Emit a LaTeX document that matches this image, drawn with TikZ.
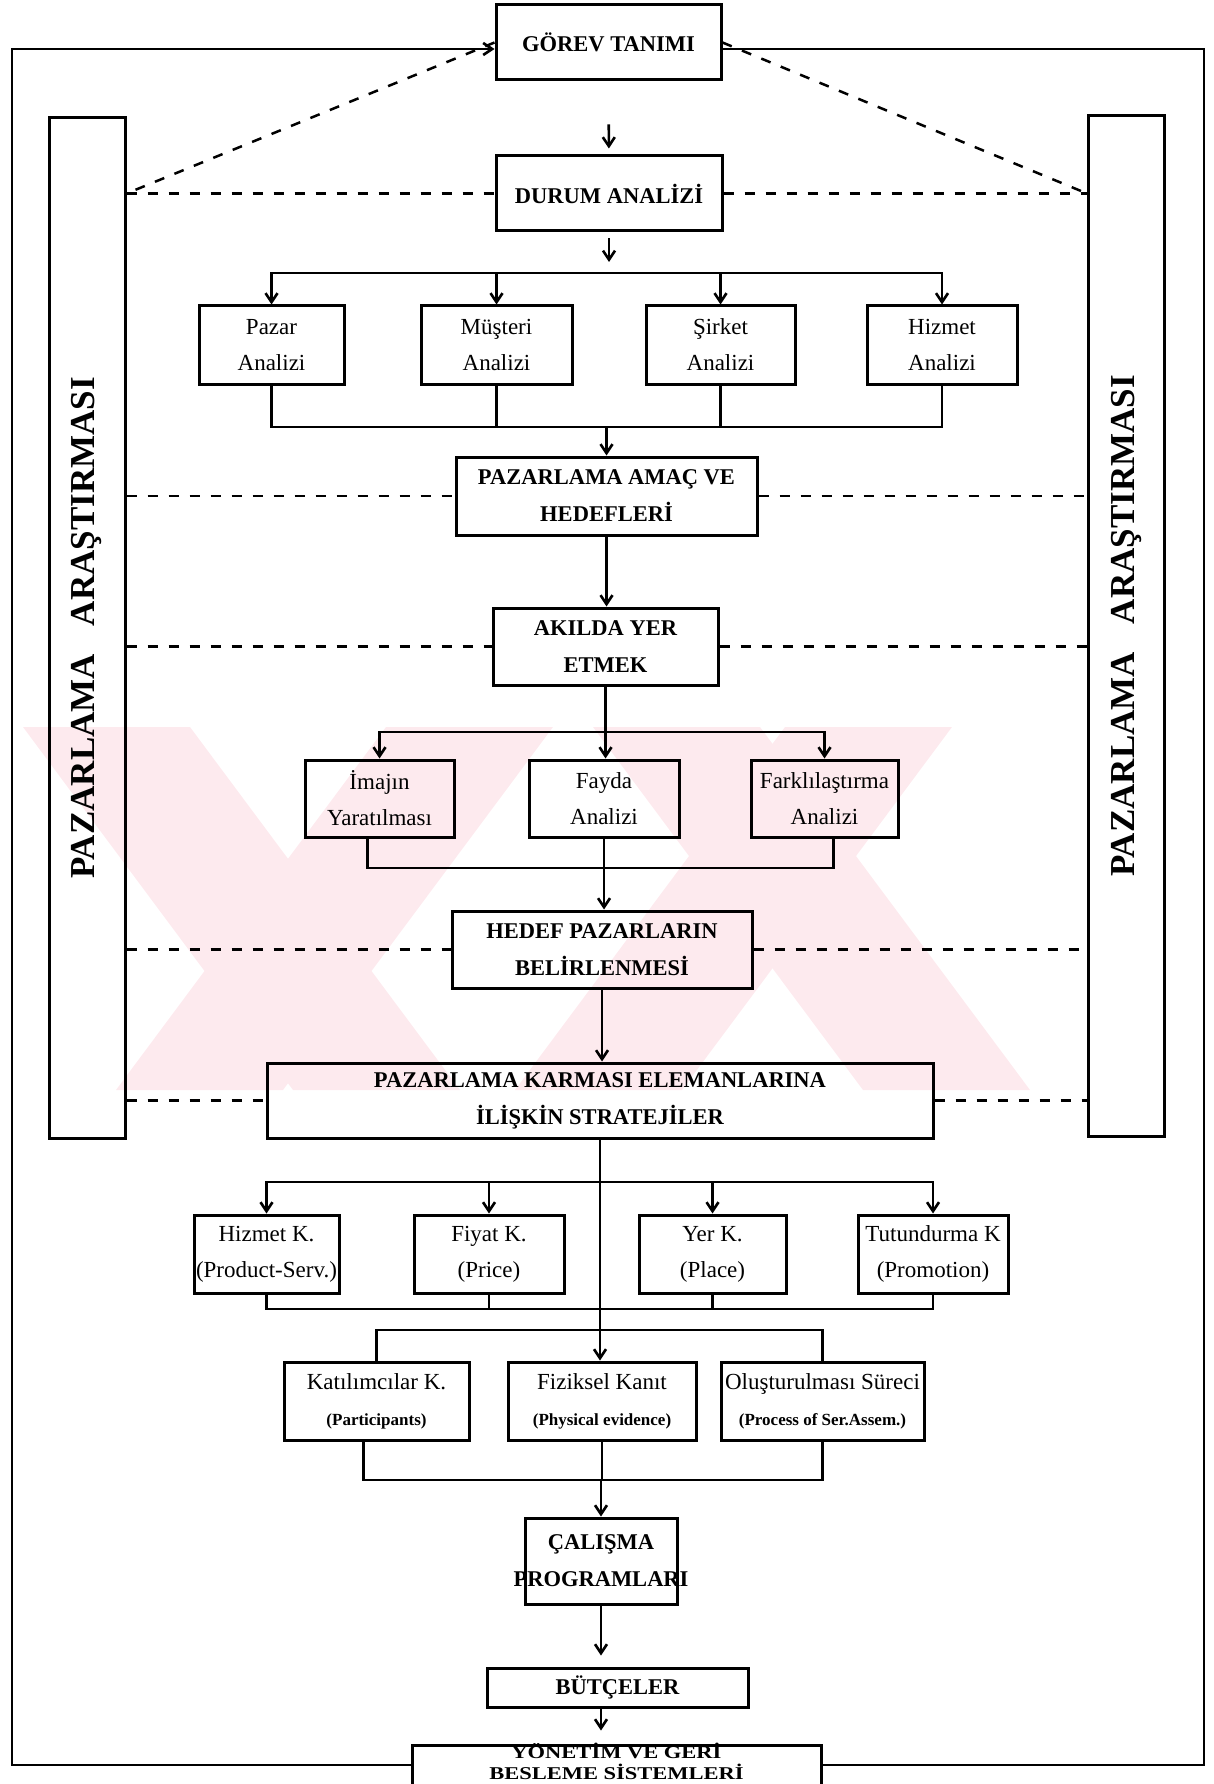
\documentclass[tikz,border=0pt]{standalone}
\usepackage{fontspec}
\setmainfont{Liberation Serif}
\usetikzlibrary{arrows.meta}
\definecolor{wmpink}{RGB}{253,234,238}
\newcommand{\wide}[1]{\makebox[0pt]{#1}}

\begin{document}
\begin{tikzpicture}[x=1pt,y=-1pt,
  plainbox/.style={draw,line width=3pt,inner xsep=0pt,inner ysep=0pt,align=center},
  headbox/.style={plainbox,font=\bfseries\fontsize{22.5}{37}\selectfont},
  subbox/.style={plainbox,font=\fontsize{23}{36}\selectfont},
  sidebar/.style={draw,line width=3pt,rotate=90,minimum width=1020,minimum height=76,font=\bfseries\fontsize{35}{40}\selectfont},
  conn/.style={line width=2.6pt,line cap=rect},
  arr/.style={line width=2.6pt,-{Straight Barb[length=9pt,width=12pt]}},
  dline/.style={line width=2.5pt,dash pattern=on 10pt off 11pt}]
  \useasboundingbox (0,0) rectangle (1214,1784);

  \fill[wmpink] (23,727) -- (190,727) -- (460,1090) -- (293,1090) -- cycle;
  \fill[wmpink] (386,727) -- (553,727) -- (283,1090) -- (116,1090) -- cycle;
  \fill[wmpink] (593,727) -- (760,727) -- (1030,1090) -- (863,1090) -- cycle;
  \fill[wmpink] (785,727) -- (952,727) -- (682,1090) -- (515,1090) -- cycle;

  \node[sidebar] (leftbar) at (87,628) {PAZARLAMA\hspace{0.8em}ARAŞTIRMASI};
  \node[sidebar] (rightbar) at (1126.5,626) {PAZARLAMA\hspace{0.8em}ARAŞTIRMASI};

  \node[headbox,minimum width=225,minimum height=75] (gorev) at (608.5,42.5) {GÖREV TANIMI};
  \node[headbox,minimum width=226,minimum height=75] (durum) at (609,193.5) {DURUM ANALİZİ};
  \node[subbox,minimum width=145,minimum height=78] (pazar) at (271.5,345) {Pazar\\Analizi};
  \node[subbox,minimum width=151,minimum height=78] (musteri) at (496.5,345) {Müşteri\\Analizi};
  \node[subbox,minimum width=149,minimum height=78] (sirket) at (720.5,345) {Şirket\\Analizi};
  \node[subbox,minimum width=150,minimum height=78] (hizmet) at (942,345) {Hizmet\\Analizi};
  \node[headbox,minimum width=301,minimum height=78] (amac) at (606.5,496) {PAZARLAMA AMAÇ VE\\HEDEFLERİ};
  \node[headbox,minimum width=225,minimum height=77] (akilda) at (605.5,646.5) {AKILDA YER\\ETMEK};
  \node[subbox,minimum width=149,minimum height=77] (imaj) at (379.5,798.5) {İmajın\\Yaratılması};
  \node[subbox,minimum width=150,minimum height=77] (fayda) at (604,798.5) {Fayda\\Analizi};
  \node[subbox,minimum width=147,minimum height=77] (fark) at (824.5,798.5) {Farklılaştırma\\Analizi};
  \node[headbox,minimum width=300,minimum height=77] (hedef) at (602,949.5) {HEDEF PAZARLARIN\\BELİRLENMESİ};
  \node[headbox,minimum width=666,minimum height=75] (karma) at (600,1100.5) {PAZARLAMA KARMASI ELEMANLARINA\\İLİŞKİN STRATEJİLER};
  \node[subbox,minimum width=145,minimum height=78] (hizk) at (266.5,1254) {Hizmet K.\\(Product-Serv.)};
  \node[subbox,minimum width=150,minimum height=78] (fiyat) at (489,1254) {Fiyat K.\\(Price)};
  \node[subbox,minimum width=147,minimum height=78] (yer) at (712.5,1254) {Yer K.\\(Place)};
  \node[subbox,minimum width=150,minimum height=78] (tutun) at (933,1254) {Tutundurma K\\(Promotion)};
  \node[subbox,minimum width=185,minimum height=78] (katil) at (376.5,1401) {Katılımcılar K.\\{\bfseries\fontsize{17}{36}\selectfont (Participants)}};
  \node[subbox,minimum width=188,minimum height=78] (fizik) at (602,1401) {Fiziksel Kanıt\\{\bfseries\fontsize{17}{36}\selectfont (Physical evidence)}};
  \node[subbox,minimum width=203,minimum height=78] (olus) at (822.5,1401) {Oluşturulması Süreci\\{\bfseries\fontsize{17}{36}\selectfont (Process of Ser.Assem.)}};
  \node[headbox,minimum width=152,minimum height=86] (calisma) at (601,1561) {ÇALIŞMA\\\wide{PROGRAMLARI}};
  \node[headbox,minimum width=261,minimum height=39] (butce) at (617.5,1687.5) {BÜTÇELER};
  \node[plainbox,minimum width=409,minimum height=65] (yonetim) at (616.5,1777.5) {};
  \node[align=center,inner sep=0pt,font=\bfseries\fontsize{22.5}{21}\selectfont] (yonetimtxt) at (616.5,1761) {\scalebox{1}[0.8]{YÖNETİM VE GERİ}\\\scalebox{1}[0.8]{BESLEME SİSTEMLERİ}};

  \coordinate (tl) at (12,49);
  \coordinate (tr) at (1204,49);
  \coordinate (bl) at (12,1765);
  \coordinate (br) at (1204,1765);
  \draw[arr] (yonetim.west |- bl) -- (bl) -- (tl) -- (gorev.west |- tl);
  \draw[conn] (gorev.east |- tr) -- (tr) -- (br) -- (yonetim.east |- br);

  \draw[dline] (gorev.west) -- (leftbar.south |- durum.west);
  \draw[dline] (gorev.east) -- (rightbar.north |- durum.east);
  \draw[dline] (leftbar.south |- durum.west) -- (durum.west);
  \draw[dline] (durum.east) -- (rightbar.north |- durum.east);
  \draw[dline] (leftbar.south |- amac.west) -- (amac.west);
  \draw[dline] (amac.east) -- (rightbar.north |- amac.east);
  \draw[dline] (leftbar.south |- akilda.west) -- (akilda.west);
  \draw[dline] (akilda.east) -- (rightbar.north |- akilda.east);
  \draw[dline] (leftbar.south |- hedef.west) -- (hedef.west);
  \draw[dline] (hedef.east) -- (rightbar.north |- hedef.east);
  \draw[dline] (leftbar.south |- karma.west) -- (karma.west);
  \draw[dline] (karma.east) -- (rightbar.north |- karma.east);

  \draw[arr,shorten <=43pt,shorten >=6pt] (gorev) -- (durum);
  \coordinate (j1) at (609,273);
  \draw[arr,shorten <=6pt,shorten >=11pt] (durum) -- (j1);
  \draw[conn] (pazar.north |- j1) -- (hizmet.north |- j1);
  \draw[arr] (pazar.north |- j1) -- (pazar.north);
  \draw[arr] (musteri.north |- j1) -- (musteri.north);
  \draw[arr] (sirket.north |- j1) -- (sirket.north);
  \draw[arr] (hizmet.north |- j1) -- (hizmet.north);

  \coordinate (j2) at (607,427);
  \draw[conn] (pazar.south) -- (pazar.south |- j2) -- (hizmet.south |- j2) -- (hizmet.south);
  \draw[conn] (musteri.south) -- (musteri.south |- j2);
  \draw[conn] (sirket.south) -- (sirket.south |- j2);
  \draw[arr] (amac.north |- j2) -- (amac.north);
  \draw[arr] (amac.south) -- (amac.south |- akilda.north);
  \draw[arr] (akilda.south) -- (akilda.south |- fayda.north);

  \coordinate (j3) at (605,732);
  \draw[conn] (imaj.north |- j3) -- (fark.north |- j3);
  \draw[arr] (imaj.north |- j3) -- (imaj.north);
  \draw[arr] (fark.north |- j3) -- (fark.north);
  \coordinate (j4) at (604,868);
  \draw[conn] ([xshift=-12pt]imaj.south) -- ([xshift=-12pt]imaj.south |- j4) -- ([xshift=9pt]fark.south |- j4) -- ([xshift=9pt]fark.south);
  \draw[arr] (fayda.south) -- (fayda.south |- hedef.north);
  \draw[arr] (hedef.south) -- (hedef.south |- karma.north);
  \draw[arr] (karma.south) -- (karma.south |- fizik.north);

  \coordinate (j5) at (600,1182);
  \draw[conn] (hizk.north |- j5) -- (tutun.north |- j5);
  \draw[arr] (hizk.north |- j5) -- (hizk.north);
  \draw[arr] (fiyat.north |- j5) -- (fiyat.north);
  \draw[arr] (yer.north |- j5) -- (yer.north);
  \draw[arr] (tutun.north |- j5) -- (tutun.north);
  \coordinate (j6) at (600,1309);
  \draw[conn] (hizk.south) -- (hizk.south |- j6) -- (tutun.south |- j6) -- (tutun.south);
  \draw[conn] (fiyat.south) -- (fiyat.south |- j6);
  \draw[conn] (yer.south) -- (yer.south |- j6);
  \coordinate (j7) at (600,1330);
  \draw[conn] (katil.north) -- (katil.north |- j7) -- (olus.north |- j7) -- (olus.north);

  \coordinate (j8) at (600,1480);
  \draw[conn] ([xshift=-13pt]katil.south) -- ([xshift=-13pt]katil.south |- j8) -- (olus.south |- j8) -- (olus.south);
  \draw[conn] (fizik.south) -- (fizik.south |- j8);
  \draw[arr] (calisma.north |- j8) -- (calisma.north);
  \draw[arr,shorten >=11pt] (calisma.south) -- (calisma.south |- butce.north);
  \draw[arr,shorten >=13pt] (calisma.south |- butce.south) -- (calisma.south |- yonetim.north);
\end{tikzpicture}
\end{document}
